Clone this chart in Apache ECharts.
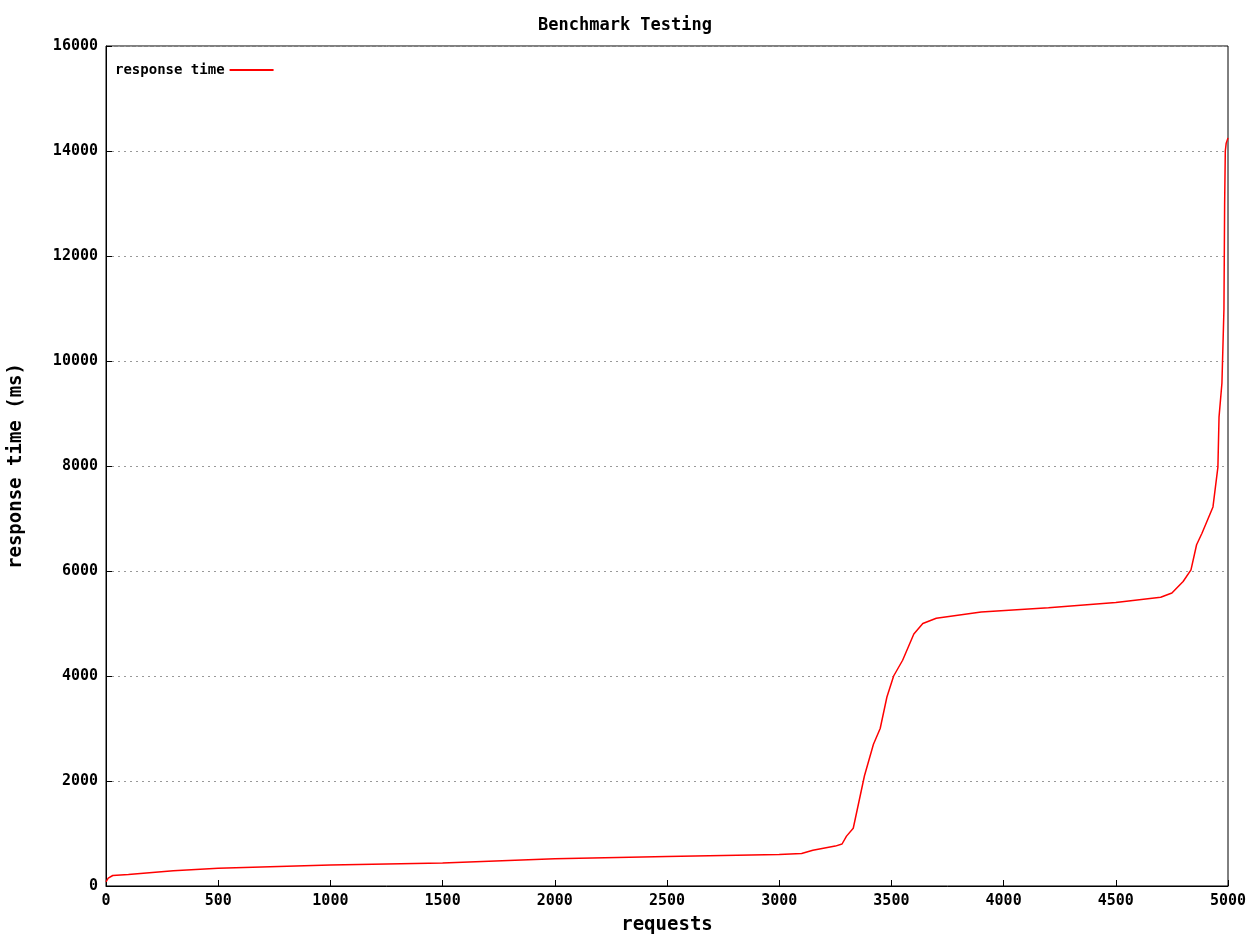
<!DOCTYPE html><html><head><meta charset="utf-8"><script src="https://cdn.jsdelivr.net/npm/echarts@6/dist/echarts.min.js"></script></head><body style="margin:0"><div id="c" style="width:1250px;height:937px"></div><script>
const requests=[0,10,30,100,300,500,1000,1500,2000,2500,3000,3100,3150,3250,3280,3300,3330,3350,3380,3420,3450,3480,3510,3550,3600,3640,3700,3900,4200,4500,4700,4750,4800,4835,4860,4884,4933,4955,4960,4973,4982,4985,4988,4992,5000];
const responseTime=[80,150,200,220,290,340,400,440,520,560,600,620,680,760,800,950,1100,1500,2100,2700,3000,3600,4000,4300,4800,5000,5100,5220,5300,5400,5500,5580,5800,6020,6500,6720,7220,7980,8930,9580,11000,13000,14000,14150,14250];
const font='DejaVu Sans Mono';
const lbl={fontFamily:font,fontWeight:'bold',fontSize:15,color:'#000',formatter:v=>String(v)};
echarts.init(document.getElementById('c')).setOption({
 animation:false,
 title:{text:'Benchmark Testing',left:'center',top:12,textStyle:{fontFamily:font,fontWeight:'bold',fontSize:17,color:'#000'}},
 legend:{left:110,top:58,itemWidth:44,itemHeight:2,icon:'rect',align:'right',textStyle:{fontFamily:font,fontWeight:'bold',fontSize:14,color:'#000'}},
 grid:{left:106,right:22,top:46,bottom:51,show:true,borderColor:'#000',borderWidth:1,containLabel:false,outerBoundsMode:'none'},
 xAxis:{type:'value',min:0,max:5000,interval:500,name:'requests',nameLocation:'middle',nameGap:30,nameTextStyle:{fontFamily:font,fontWeight:'bold',fontSize:19,color:'#000'},axisLine:{lineStyle:{color:'#000'}},axisTick:{inside:true,length:6,lineStyle:{color:'#000'}},axisLabel:lbl,splitLine:{show:false}},
 yAxis:{type:'value',min:0,max:16000,interval:2000,name:'response time (ms)',nameLocation:'middle',nameGap:80,nameTextStyle:{fontFamily:font,fontWeight:'bold',fontSize:19,color:'#000'},axisLine:{lineStyle:{color:'#000'}},axisTick:{inside:true,length:6,lineStyle:{color:'#000'}},axisLabel:lbl,splitLine:{lineStyle:{color:'#999',type:[2,4]}}},
 series:[{name:'response time',type:'line',showSymbol:false,lineStyle:{color:'#ff0000',width:1.5},itemStyle:{color:'#ff0000'},data:requests.map((r,i)=>[r,responseTime[i]])}]
});
</script></body></html>
